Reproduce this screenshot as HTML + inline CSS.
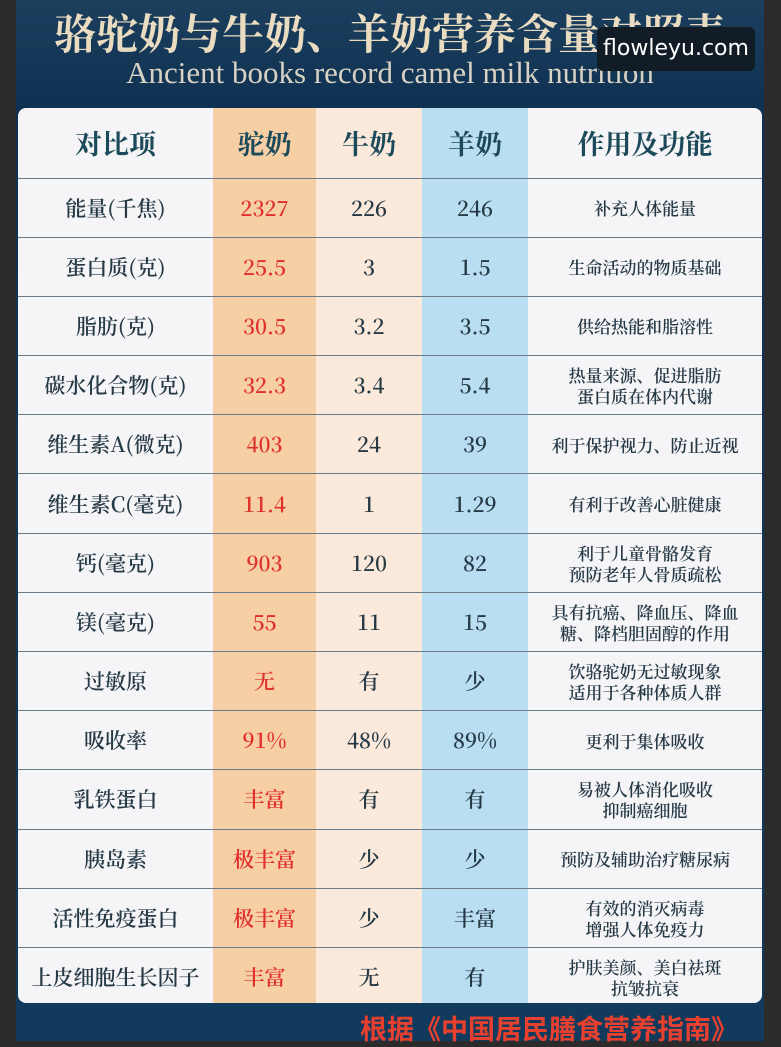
<!DOCTYPE html>
<html><head><meta charset="utf-8"><style>
*{margin:0;padding:0;box-sizing:border-box}
body{width:781px;height:1041px;overflow:hidden;background:#2b2b2b;font-family:"Liberation Serif","Noto Serif CJK SC",serif;position:relative}
#bg{position:absolute;left:16px;top:0;width:748px;height:1041px;background:linear-gradient(180deg,#1d3f5e 0%,#0f3252 10%,#123a5c 100%)}
#t1{position:absolute;left:16px;width:748px;top:2px;text-align:center;font-size:42px;font-weight:bold;color:#eadcc0;font-family:"Noto Serif CJK SC",serif}
#t2{position:absolute;left:16px;width:748px;top:55px;text-align:center;font-size:31px;color:#d8d2c4}
#wm{position:absolute;left:597px;top:27px;width:158px;height:44px;background:#111c26;border-radius:6px;color:#fff;font-family:"DejaVu Sans",sans-serif;font-size:22px;line-height:44px;text-align:center}
#panel{position:absolute;left:18px;top:108px;width:744px;height:895px;background:#f5f4f6;border-radius:8px;overflow:hidden}
.col{position:absolute;top:0;height:895px}
table{position:absolute;left:0;top:0;border-collapse:collapse;width:744px}
td{text-align:center;vertical-align:middle;height:59.2px;border-top:1.5px solid #6b7c88;font-size:21px;color:#263a46;font-weight:600;font-family:"Noto Serif CJK SC",serif}
tr.h td{height:70px;border-top:none;font-size:27px;font-weight:bold;color:#1c4a5a}
td.r{color:#e0302a}
td.s{font-size:17px;line-height:21px}
#foot{position:absolute;left:360px;top:1008px;font-size:27px;font-weight:bold;color:#e8402e;font-family:"Noto Sans CJK SC",sans-serif}
</style></head><body>
<div id="bg"></div>
<div id="t1">骆驼奶与牛奶、羊奶营养含量对照表</div>
<div id="t2">Ancient books record camel milk nutrition</div>
<div id="wm">flowleyu.com</div>
<div id="panel">
<div class="col" style="left:195px;width:103px;background:#f7cfa4"></div>
<div class="col" style="left:298px;width:106px;background:#fbeadb"></div>
<div class="col" style="left:404px;width:106px;background:#b9def2"></div>
<table>
<colgroup><col style="width:195px"><col style="width:103px"><col style="width:106px"><col style="width:106px"><col></colgroup>
<tr class="h"><td>对比项</td><td>驼奶</td><td>牛奶</td><td>羊奶</td><td>作用及功能</td></tr>
<tr><td>能量(千焦)</td><td class="r">2327</td><td>226</td><td>246</td><td class="s">补充人体能量</td></tr>
<tr><td>蛋白质(克)</td><td class="r">25.5</td><td>3</td><td>1.5</td><td class="s">生命活动的物质基础</td></tr>
<tr><td>脂肪(克)</td><td class="r">30.5</td><td>3.2</td><td>3.5</td><td class="s">供给热能和脂溶性</td></tr>
<tr><td>碳水化合物(克)</td><td class="r">32.3</td><td>3.4</td><td>5.4</td><td class="s">热量来源、促进脂肪<br>蛋白质在体内代谢</td></tr>
<tr><td>维生素A(微克)</td><td class="r">403</td><td>24</td><td>39</td><td class="s">利于保护视力、防止近视</td></tr>
<tr><td>维生素C(毫克)</td><td class="r">11.4</td><td>1</td><td>1.29</td><td class="s">有利于改善心脏健康</td></tr>
<tr><td>钙(毫克)</td><td class="r">903</td><td>120</td><td>82</td><td class="s">利于儿童骨骼发育<br>预防老年人骨质疏松</td></tr>
<tr><td>镁(毫克)</td><td class="r">55</td><td>11</td><td>15</td><td class="s">具有抗癌、降血压、降血<br>糖、降档胆固醇的作用</td></tr>
<tr><td>过敏原</td><td class="r">无</td><td>有</td><td>少</td><td class="s">饮骆驼奶无过敏现象<br>适用于各种体质人群</td></tr>
<tr><td>吸收率</td><td class="r">91%</td><td>48%</td><td>89%</td><td class="s">更利于集体吸收</td></tr>
<tr><td>乳铁蛋白</td><td class="r">丰富</td><td>有</td><td>有</td><td class="s">易被人体消化吸收<br>抑制癌细胞</td></tr>
<tr><td>胰岛素</td><td class="r">极丰富</td><td>少</td><td>少</td><td class="s">预防及辅助治疗糖尿病</td></tr>
<tr><td>活性免疫蛋白</td><td class="r">极丰富</td><td>少</td><td>丰富</td><td class="s">有效的消灭病毒<br>增强人体免疫力</td></tr>
<tr><td>上皮细胞生长因子</td><td class="r">丰富</td><td>无</td><td>有</td><td class="s">护肤美颜、美白祛斑<br>抗皱抗衰</td></tr>
</table>
</div>
<div id="foot">根据《中国居民膳食营养指南》</div>
</body></html>
